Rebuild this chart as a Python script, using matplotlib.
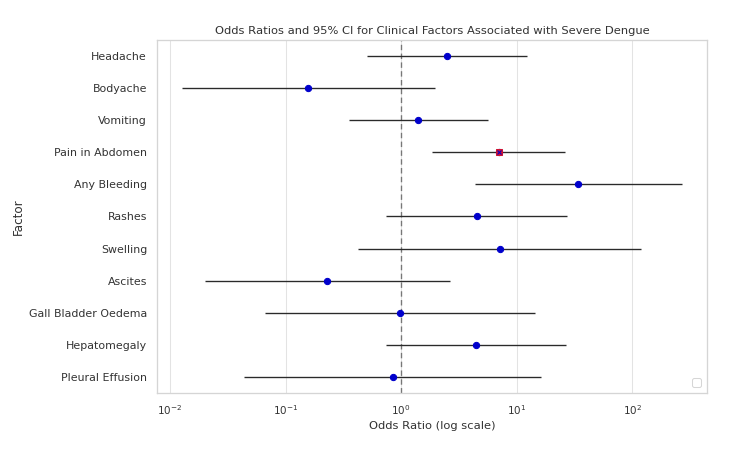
import matplotlib
matplotlib.use("Agg")
import matplotlib.pyplot as plt
import seaborn as sns
import numpy as np

factors = ["Headache", "Bodyache", "Vomiting", "Pain in Abdomen", "Any Bleeding",
           "Rashes", "Swelling", "Ascites", "Gall Bladder Oedema", "Hepatomegaly",
           "Pleural Effusion"]
odds_ratio = [2.49, 0.158, 1.40, 7.0, 34.2, 4.52, 7.13, 0.23, 0.98, 4.44, 0.853]
ci_lower = [0.51, 0.0127, 0.356, 1.85, 4.34, 0.74, 0.426, 0.020, 0.067, 0.74, 0.044]
ci_upper = [12.4, 1.96, 5.62, 26.4, 270.0, 27.5, 119.6, 2.64, 14.3, 27.0, 16.4]
highlight = "Pain in Abdomen"

sns.set_theme(style="whitegrid")
plt.rcParams['font.family'] = ['DejaVu Sans']

fig, ax = plt.subplots(figsize=(10, 5.987), dpi=75)
fig.subplots_adjust(left=0.2093, right=0.9427, top=0.911, bottom=0.1247)

y = np.arange(len(factors))
or_arr = np.array(odds_ratio)
lo = or_arr - np.array(ci_lower)
hi = np.array(ci_upper) - or_arr
ax.errorbar(odds_ratio, y, xerr=[lo, hi], fmt='o', color='#0000cc', ecolor='#2a2a2a',
            elinewidth=1.3, markersize=6, capsize=0, zorder=3)
hi_idx = factors.index(highlight)
ax.plot(odds_ratio[hi_idx], hi_idx, marker='s', color='#cc1133', markersize=6, zorder=4)
ax.plot(odds_ratio[hi_idx], hi_idx, marker='x', color='#0000cc', markersize=3.5,
        markeredgewidth=1, zorder=5)
ax.axvline(1, color='#777777', linestyle=(0, (4, 2.5)), linewidth=1.3, zorder=2)

ax.set_xscale('log')
ax.set_yticks(y)
ax.set_yticklabels(factors)
ax.set_ylim(len(factors) - 0.5, -0.5)
ax.grid(axis='y', visible=False)
ax.grid(axis='x', which='major', color='#e3e3e3')
ax.set_xlabel("Odds Ratio (log scale)", fontsize=11, color='#333333')
ax.set_ylabel("Factor", fontsize=11.5, color='#333333')
ax.set_title("Odds Ratios and 95% CI for Clinical Factors Associated with Severe Dengue",
             fontsize=11, color='#333333')
ax.tick_params(axis='y', labelsize=10.5, labelcolor='#333333')
ax.tick_params(axis='x', labelsize=10, labelcolor='#333333')
for s in ax.spines.values():
    s.set_color('#d5d5d5')
leg = ax.legend(handles=[], loc='lower right')
fig.savefig("out.png", dpi=75)
